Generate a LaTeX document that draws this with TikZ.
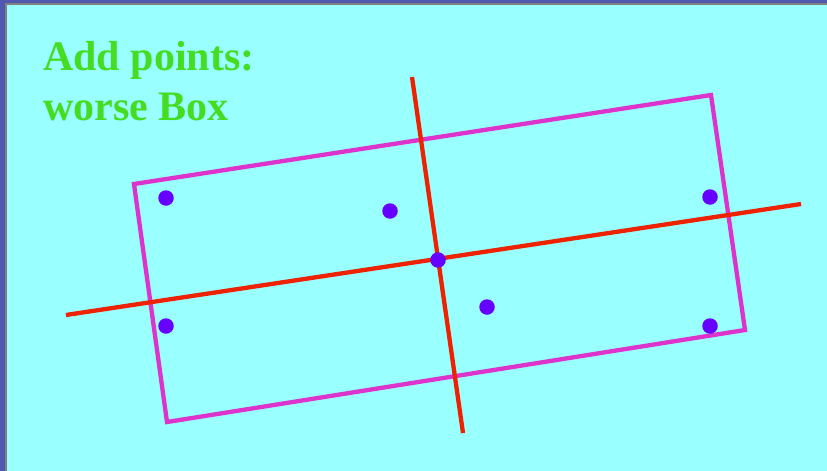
\documentclass[tikz,border=0pt]{standalone}
\usepackage{fontspec}
\setmainfont{Liberation Serif}
\usepackage{xcolor}
\usetikzlibrary{positioning}
\definecolor{bgcyan}{HTML}{99FFFF}
\definecolor{framebl}{HTML}{5058B0}
\definecolor{boxmag}{HTML}{DD33CC}
\definecolor{axisred}{HTML}{EE2200}
\definecolor{dotblue}{HTML}{6600FF}
\definecolor{titlegrn}{HTML}{44DD22}

\begin{document}
\begin{tikzpicture}[
  x=1pt, y=-1pt,
  dot/.style={circle, fill=dotblue, inner sep=0pt, minimum size=15.5pt},
  boxline/.style={draw=boxmag, line width=4.3pt, line join=miter},
  axis/.style={draw=axisred, line width=4.3pt},
  title/.style={anchor=base west, text=titlegrn, font=\fontsize{42}{50}\selectfont\bfseries, inner sep=0pt}
]
  % frame and background
  \fill[framebl] (0,0) rectangle (827,471);
  \fill[gray] (5,3) rectangle (827,471);
  \fill[bgcyan] (7,5) rectangle (827,471);
  \useasboundingbox (0,0) rectangle (827,471);

  \node[title] (head1) at (43,70) {Add points:};
  \node[title] (head2) at (43,120) {worse Box};

  % box corners
  \coordinate (c1) at (134,184);
  \coordinate (c2) at (711,95);
  \coordinate (c3) at (745,330);
  \coordinate (c4) at (167,422);
  \draw[boxline] (c1) -- (c2) -- (c3) -- (c4) -- cycle;

  % axes
  \coordinate (a1) at (66,315);
  \coordinate (a2) at (801,204);
  \coordinate (b1) at (412,77);
  \coordinate (b2) at (463,433);
  \draw[axis] (a1) -- (a2);
  \draw[axis] (b1) -- (b2);

  % points
  \node[dot] (p1) at (166,198) {};
  \node[dot] (p2) at (390,211) {};
  \node[dot] (p3) at (710,197) {};
  \node[dot] (p4) at (438,260) {};
  \node[dot] (p5) at (487,307) {};
  \node[dot] (p6) at (166,326) {};
  \node[dot] (p7) at (710,326) {};
\end{tikzpicture}
\end{document}
